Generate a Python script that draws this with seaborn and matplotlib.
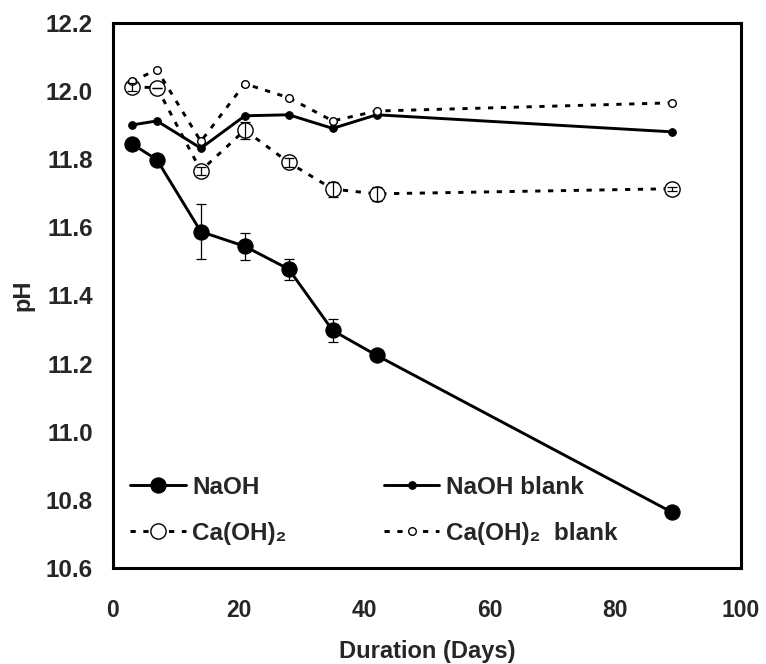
import numpy as np
import pandas as pd
import matplotlib
matplotlib.use("Agg")
import matplotlib.pyplot as plt
import seaborn as sns

days = [3, 7, 14, 21, 28, 35, 42, 89]

naoh = [11.845, 11.798, 11.587, 11.544, 11.477, 11.297, 11.224, 10.764]
naoh_err = [0.0, 0.0, 0.081, 0.040, 0.031, 0.035, 0.0, 0.0]

naoh_blank = [11.900, 11.912, 11.832, 11.927, 11.930, 11.890, 11.930, 11.880]

caoh = [12.011, 12.010, 11.766, 11.885, 11.790, 11.712, 11.698, 11.713]
caoh_err = [0.012, 0.0, 0.012, 0.025, 0.012, 0.022, 0.020, 0.006]

caoh_blank = [12.028, 12.062, 11.852, 12.021, 11.980, 11.912, 11.941, 11.965]

sns.set_style("white")
plt.rcParams["font.family"] = ["Liberation Sans", "DejaVu Sans"]
plt.rcParams["font.weight"] = "bold"

fig, ax = plt.subplots(figsize=(7.66, 6.64), dpi=100)
fig.subplots_adjust(left=0.1475, right=0.967, top=0.9657, bottom=0.1446)

dash = (0, (1.8, 2.6))

sns.lineplot(x=days, y=naoh, ax=ax, color="black", lw=2.1, marker="o",
             markersize=11, markerfacecolor="black", markeredgecolor="black",
             label="NaOH", zorder=3)
sns.lineplot(x=days, y=caoh, ax=ax, color="black", lw=2.1, linestyle=dash,
             marker="o", markersize=11, markerfacecolor="white",
             markeredgecolor="black", markeredgewidth=1, label="Ca(OH)₂", zorder=3)
sns.lineplot(x=days, y=naoh_blank, ax=ax, color="black", lw=2.1, marker="o",
             markersize=5.5, markerfacecolor="black", markeredgecolor="black",
             label="NaOH blank", zorder=3)
sns.lineplot(x=days, y=caoh_blank, ax=ax, color="black", lw=2.1, linestyle=dash,
             marker="o", markersize=5.5, markerfacecolor="white",
             markeredgecolor="black", markeredgewidth=1,
             label="Ca(OH)₂  blank", zorder=3)

# error bars
ax.errorbar(days, naoh, yerr=naoh_err, fmt="none", ecolor="black",
            elinewidth=0.9, capsize=3.5, capthick=0.9, zorder=4)
ax.errorbar(days, caoh, yerr=caoh_err, fmt="none", ecolor="black",
            elinewidth=0.9, capsize=3.5, capthick=0.9, zorder=4)

ax.set_xlim(0, 100)
ax.set_ylim(10.6, 12.2)
ax.set_xticks(np.arange(0, 101, 20))
ax.set_yticks(np.arange(10.6, 12.21, 0.2))
ax.set_yticklabels([f"{v:.1f}" for v in np.arange(10.6, 12.21, 0.2)])

for s in ax.spines.values():
    s.set_color("black")
    s.set_linewidth(2.2)

ax.tick_params(axis="both", direction="out", length=5, width=0.8,
               color="#aaaaaa")
ax.tick_params(axis="y", labelsize=17.5, pad=9.5)
ax.tick_params(axis="x", labelsize=16.5, pad=17)
for t in ax.get_xticklabels() + ax.get_yticklabels():
    t.set_fontweight("bold")

ax.set_xlabel("Duration (Days)", fontsize=17, fontweight="bold", labelpad=13)
ax.set_ylabel("pH", fontsize=17, fontweight="bold", labelpad=8)

handles, labels = ax.get_legend_handles_labels()
leg = ax.legend(handles, labels, ncol=2, loc="lower left",
                bbox_to_anchor=(0.0, 0.011), frameon=False, fontsize=17.5,
                handlelength=2.3, handletextpad=0.25, columnspacing=4.0,
                labelspacing=0.95, borderaxespad=0.3)
for t in leg.get_texts():
    t.set_fontweight("bold")

fig.savefig("out.png", dpi=100)
